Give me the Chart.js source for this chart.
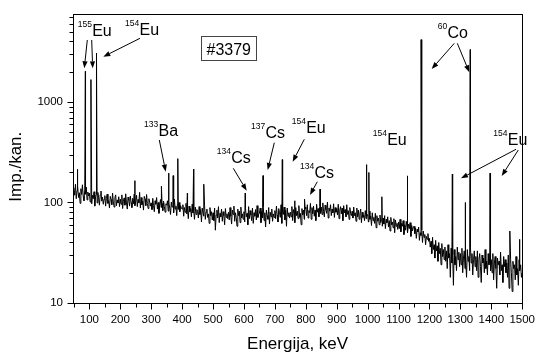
<!DOCTYPE html>
<html>
<head>
<meta charset="utf-8">
<script src="https://cdn.jsdelivr.net/npm/chart.js@4"></script>
<style>
  body { margin:0; background:#fff; }
  canvas { display:block; }
</style>
</head>
<body>
<canvas id="spectrum" width="539" height="352"></canvas>
<script>
// spectrum continuum, one value every 2.5 keV from 50 keV (one row = 50 keV)
const startKeV = 50;
const stepKeV = 2.5;
const continuum = [
  140,118,152,109,131,146,112,125, 98,137,120,150,115,104,133,121,142,106,127,116,
  124,101,135, 97,118,109,128, 92,115,120, 99,126,111, 94,119,130,103,113, 96,108,
  117, 92,109,121, 98,104, 88,115,107, 95,124,101, 90,112,119, 93,106, 99,114, 91,
  108, 96,119, 87,103,111, 94,122, 99, 86,113,105, 92,116,100, 89,110, 97,121, 93,
  104,118, 91,107, 99,126, 88,112, 95,103, 84,115,108, 93,120, 98, 87,109,101, 92,
   99, 85,110, 93, 81,104, 96,112, 86,100, 78, 95,107, 89, 98, 83,103, 91, 80, 97,
   94,104, 82, 99, 88, 76,101, 90, 95, 79,108, 86, 92, 74, 98, 85,100, 81, 93, 88,
   86, 95, 73, 89, 80, 98, 77, 84, 69, 92, 81, 87, 72, 96, 79, 83, 68, 90, 76, 85,
   82, 70, 91, 76, 85, 64, 88, 79, 73, 94, 68, 80, 86, 71, 77, 62, 89, 74, 81, 67,
   79, 66, 88, 53, 75, 84, 70, 91, 63, 78, 72, 86, 65, 81, 74, 60, 87, 71, 77, 69,
   80, 67, 89, 73, 61, 84, 76, 92, 65, 79, 71, 58, 86, 74, 82, 63, 90, 70, 77, 68,
   81, 64, 87, 72, 78, 60, 91, 69, 83, 75, 66, 88, 62, 79, 73, 85, 67, 93, 71, 76,
   78, 88, 63, 82, 70, 91, 66, 79, 57, 84, 74, 68, 89, 61, 80, 72, 86, 65, 77, 71,
   83, 69, 92, 75, 64, 87, 79, 71, 95, 62, 81, 76, 90, 67, 84, 58, 88, 73, 79, 70,
   80, 72, 91, 66, 85, 77, 63, 89, 74, 82, 69, 93, 71, 78, 60, 87, 75, 84, 68, 90,
   86, 74, 95, 70, 83, 79, 98, 68, 89, 77, 92, 73, 84, 66, 96, 80, 87, 72, 91, 78,
   90, 76, 99, 81, 72, 94, 85, 78,101, 70, 88, 82, 95, 74, 86, 79, 97, 71, 89, 80,
   87, 75, 96, 69, 84, 91, 77, 88, 66, 93, 79, 85, 72, 95, 76, 83, 68, 89, 78, 74,
   82, 70, 90, 74, 79, 65, 88, 72, 84, 68, 77, 86, 63, 80, 71, 75, 66, 83, 69, 73,
   76, 64, 82, 68, 73, 59, 79, 66, 71, 62, 78, 56, 74, 65, 70, 60, 75, 63, 68, 58,
   70, 61, 74, 55, 68, 63, 72, 57, 66, 52, 71, 60, 64, 56, 69, 50, 67, 58, 62, 54,
   64, 55, 68, 51, 62, 58, 66, 48, 60, 53, 65, 57, 50, 61, 55, 63, 46, 59, 52, 57,
   58, 49, 56, 44, 54, 51, 57, 42, 50, 47, 53, 40, 52, 45, 48, 38, 46, 43, 49, 41,
   44, 36, 41, 31, 45, 34, 38, 28, 42, 33, 37, 26, 40, 31, 35, 24, 39, 29, 34, 27,
   36, 26, 33, 22, 38, 28, 31, 18, 35, 25, 30, 15, 34, 24, 29, 21, 36, 27, 32, 23,
   31, 24, 35, 20, 28, 33, 22, 30, 18, 34, 26, 29, 21, 36, 25, 31, 19, 27, 33, 23,
   29, 21, 33, 18, 27, 31, 23, 16, 30, 25, 28, 20, 34, 22, 26, 19, 31, 24, 28, 21,
   27, 20, 31, 17, 25, 29, 22, 14, 28, 24, 26, 19, 32, 21, 24, 16, 29, 23, 27, 20,
   25, 18, 30, 14, 23, 27, 20, 13, 26, 22, 24, 17, 29, 19, 22, 15, 27, 21, 24, 18,
   20
];

// peaks (keV, counts)
const peakKeV    = [61, 87, 105, 123, 247, 333, 356, 371, 386, 417, 437, 470, 604, 662, 724, 764, 796, 846, 996, 1004, 1046, 1128, 1173, 1274, 1315, 1332, 1396, 1460, 1491];
const peakCounts = [214, 2020, 1670, 3070, 165, 145, 196, 185, 273, 124, 215, 152, 124, 185, 267, 104, 108, 136, 238, 199, 114, 184, 4170, 192, 100, 3320, 196, 52, 43];

const xTicks = [100,200,300,400,500,600,700,800,900,1000,1100,1200,1300,1400,1500];
const yTicks = [10, 100, 1000];

// build point table
const points = continuum.map((c, i) => ({ x: startKeV + i * stepKeV, y: c }));
peakKeV.forEach((e, i) => points.push({ x: e, y: peakCounts[i] }));
points.sort((a, b) => a.x - b.x);

const FONT = "'Liberation Sans', Arial, sans-serif";

// text labels: sup, main, left x, baseline y (pixels)
const labels = [
  { sup:'155', main:'Eu', x:77.7,  y:36 },
  { sup:'154', main:'Eu', x:125,   y:35 },
  { sup:'133', main:'Ba', x:144,   y:136 },
  { sup:'134', main:'Cs', x:216.7, y:163.3 },
  { sup:'137', main:'Cs', x:251,   y:138.3 },
  { sup:'154', main:'Eu', x:291.7, y:133.3 },
  { sup:'134', main:'Cs', x:300,   y:178.3 },
  { sup:'154', main:'Eu', x:372.7, y:145 },
  { sup:'154', main:'Eu', x:493.3, y:145 },
  { sup:'60',  main:'Co', x:437.7, y:37.7 }
];
const arrows = [
  [87.3,40, 84.3,68.3], [91.7,40, 92.7,68.3], [140,38.3, 103.3,56.7],
  [159.3,140, 165.7,171.7], [233.3,168.3, 246.7,190.7], [274.3,142.7, 267.7,170],
  [304.3,139.3, 292.7,161.7], [317.3,181.7, 310,195],
  [516,149.3, 461,178.3], [518.3,150, 501.7,176],
  [454.3,43.3, 431.7,69], [457.3,43.3, 469.3,72.3]
];

function drawArrow(ctx, x1, y1, x2, y2) {
  const a = Math.atan2(y2 - y1, x2 - x1), hl = 7, hw = 2.6;
  const bx = x2 - hl * Math.cos(a), by = y2 - hl * Math.sin(a);
  ctx.beginPath(); ctx.moveTo(x1, y1); ctx.lineTo(bx, by); ctx.stroke();
  ctx.beginPath();
  ctx.moveTo(x2, y2);
  ctx.lineTo(bx + hw * Math.sin(a), by - hw * Math.cos(a));
  ctx.lineTo(bx - hw * Math.sin(a), by + hw * Math.cos(a));
  ctx.closePath(); ctx.fill();
}

const decorations = {
  id: 'decorations',
  afterDraw(chart) {
    const ctx = chart.ctx, ca = chart.chartArea;
    const xs = chart.scales.x, ys = chart.scales.y;
    ctx.save();
    ctx.strokeStyle = '#000'; ctx.fillStyle = '#000'; ctx.lineWidth = 1;
    // frame
    ctx.strokeRect(Math.round(ca.left) + 0.5, Math.round(ca.top) + 0.5,
                   Math.round(ca.right - ca.left), Math.round(ca.bottom - ca.top));
    // x ticks
    const yb = Math.round(ca.bottom) + 0.5;
    for (let v = 50; v <= 1500; v += 50) {
      const px = Math.round(xs.getPixelForValue(v)) + 0.5;
      const len = v % 100 === 0 ? 6 : 4;
      ctx.beginPath(); ctx.moveTo(px, yb); ctx.lineTo(px, yb + len); ctx.stroke();
    }
    // y ticks
    const xl = Math.round(ca.left) + 0.5;
    for (let d = 10; d <= 1000; d *= 10) {
      for (let m = 1; m <= 9; m++) {
        const v = d * m;
        if (v > 7500) break;
        const py = Math.round(ys.getPixelForValue(v)) + 0.5;
        const len = m === 1 ? 6 : 4;
        ctx.beginPath(); ctx.moveTo(xl, py); ctx.lineTo(xl - len, py); ctx.stroke();
      }
    }
    // axis titles
    ctx.font = '17px ' + FONT;
    ctx.textAlign = 'center'; ctx.textBaseline = 'alphabetic';
    ctx.fillText('Energija, keV', (ca.left + ca.right) / 2, 349);
    ctx.save();
    ctx.translate(21, 166.7); ctx.rotate(-Math.PI / 2);
    ctx.fillText('Imp./kan.', 0, 0);
    ctx.restore();
    // sample box
    ctx.strokeStyle = '#444';
    ctx.strokeRect(201.5, 36.5, 55, 24);
    ctx.font = '16px ' + FONT; ctx.textAlign = 'left';
    ctx.fillText('#3379', 206.5, 55);
    // nuclide labels
    labels.forEach(l => {
      ctx.font = '8.5px ' + FONT;
      ctx.fillText(l.sup, l.x, l.y - 9);
      const w = ctx.measureText(l.sup).width;
      ctx.font = '16px ' + FONT;
      ctx.fillText(l.main, l.x + w + 0.3, l.y);
    });
    ctx.strokeStyle = '#000'; ctx.lineWidth = 1;
    arrows.forEach(a => drawArrow(ctx, a[0], a[1], a[2], a[3]));
    ctx.restore();
  }
};

new Chart(document.getElementById('spectrum'), {
  type: 'line',
  data: {
    datasets: [{
      data: points,
      borderColor: '#000',
      borderWidth: 1,
      pointRadius: 0,
      tension: 0,
      fill: false
    }]
  },
  options: {
    responsive: false,
    animation: false,
    layout: { padding: { top: 14, right: 13, left: 0, bottom: 0 } },
    plugins: { legend: { display: false }, tooltip: { enabled: false } },
    scales: {
      x: {
        type: 'linear', min: 47, max: 1500,
        afterBuildTicks: s => { s.ticks = xTicks.map(v => ({ value: v })); },
        afterFit: s => { s.height = 49; },
        ticks: { color: '#000', font: { family: FONT, size: 11.5 }, padding: 4, maxRotation: 0, autoSkip: false, callback: v => String(v) },
        grid: { drawOnChartArea: false, tickLength: 6, color: 'rgba(0,0,0,0)' },
        border: { display: false }
      },
      y: {
        type: 'logarithmic', min: 10, max: 7500,
        afterBuildTicks: s => { s.ticks = yTicks.map(v => ({ value: v })); },
        afterFit: s => { s.width = 73; },
        ticks: { color: '#000', font: { family: FONT, size: 11.5 }, padding: 4, autoSkip: false, callback: v => String(v) },
        grid: { drawOnChartArea: false, tickLength: 6, color: 'rgba(0,0,0,0)' },
        border: { display: false }
      }
    }
  },
  plugins: [decorations]
});
</script>
</body>
</html>
